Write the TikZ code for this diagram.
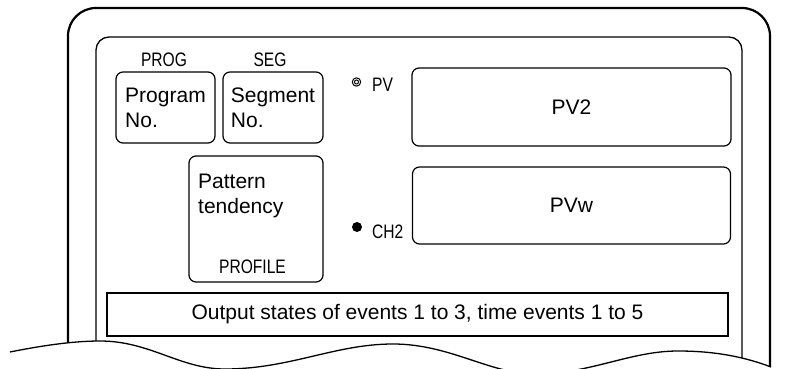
\documentclass[tikz,border=0pt]{standalone}
\usepackage{fontspec}
\setmainfont{Liberation Sans}
\newfontfamily\narrowfont[FakeStretch=0.8]{Liberation Sans}
\begin{document}
\begin{tikzpicture}[x=1pt,y=-1pt,
  box/.style={draw, line width=1.2pt, rounded corners=7pt, inner sep=0pt},
  main/.style={font=\fontsize{21}{25}\selectfont},
  lbl/.style={font=\narrowfont\fontsize{19.5}{22}\selectfont, inner sep=0pt},
  txt/.style={inner sep=0pt, font=\fontsize{21}{25}\selectfont}]
\useasboundingbox (0,0) rectangle (788,369);
% frames clipped above the wavy break line
\begin{scope}
\clip (0,0) -- (0,352) -- (10,352) .. controls (40,346) and (72,341) .. (100,341)
  .. controls (150,341) and (180,369) .. (225,369)
  .. controls (290,369) and (335,344) .. (393,344)
  .. controls (450,344) and (490,374) .. (535,374)
  .. controls (590,374) and (630,351) .. (678,351)
  .. controls (715,351) and (745,357) .. (771,367) -- (788,369) -- (788,0) -- cycle;
\draw[line width=2.2pt, rounded corners=28pt] (68,400) -- (68,8) -- (770,8) -- (770,400);
\draw[line width=1.3pt, rounded corners=13pt] (96,400) -- (96,37) -- (742,37) -- (742,400);
\end{scope}
\draw[line width=1.3pt] (10,352) .. controls (40,346) and (72,341) .. (100,341)
  .. controls (150,341) and (180,369) .. (225,369)
  .. controls (290,369) and (335,344) .. (393,344)
  .. controls (450,344) and (490,374) .. (535,374)
  .. controls (590,374) and (630,351) .. (678,351)
  .. controls (715,351) and (745,357) .. (771,367);
% boxes
\node[box, main, minimum width=99pt, minimum height=71pt, align=left] (prog) at (165.5,107.5) {Program\\No.};
\node[box, main, minimum width=100pt, minimum height=71pt, align=left] (seg) at (273,107.5) {Segment\\No.};
\node[box, minimum width=134pt, minimum height=126pt] (pat) at (256,219) {};
\node[box, main, minimum width=319pt, minimum height=78pt] (pv2) at (571.5,107) {PV2};
\node[box, main, minimum width=318pt, minimum height=77pt] (pvw) at (571.5,205.5) {PVw};
\node[draw, line width=1.2pt, main, minimum width=621pt, minimum height=43pt, inner sep=0pt] (out) at (417.5,314.5) {Output states of events 1 to 3, time events 1 to 5};
% texts
\node[txt, anchor=base west] (pat1) at (198,188) {Pattern};
\node[txt, anchor=base west] (pat2) at (198,213) {tendency};
\node[lbl, anchor=base] (proglbl) at (164,67) {PROG};
\node[lbl, anchor=base] (seglbl) at (270,67) {SEG};
\node[lbl, anchor=base] (proflbl) at (252.5,273) {PROFILE};
\node[lbl, anchor=base west] (pvlbl) at (372,92) {PV};
\node[lbl, anchor=base west] (chlbl) at (372,238) {CH2};
% indicator lamps
\draw[line width=1pt] (356.5,82) circle[radius=4.2pt];
\draw[line width=1pt] (356.5,82) circle[radius=2pt];
\fill (357,227) circle[radius=5pt];
\end{tikzpicture}
\end{document}
